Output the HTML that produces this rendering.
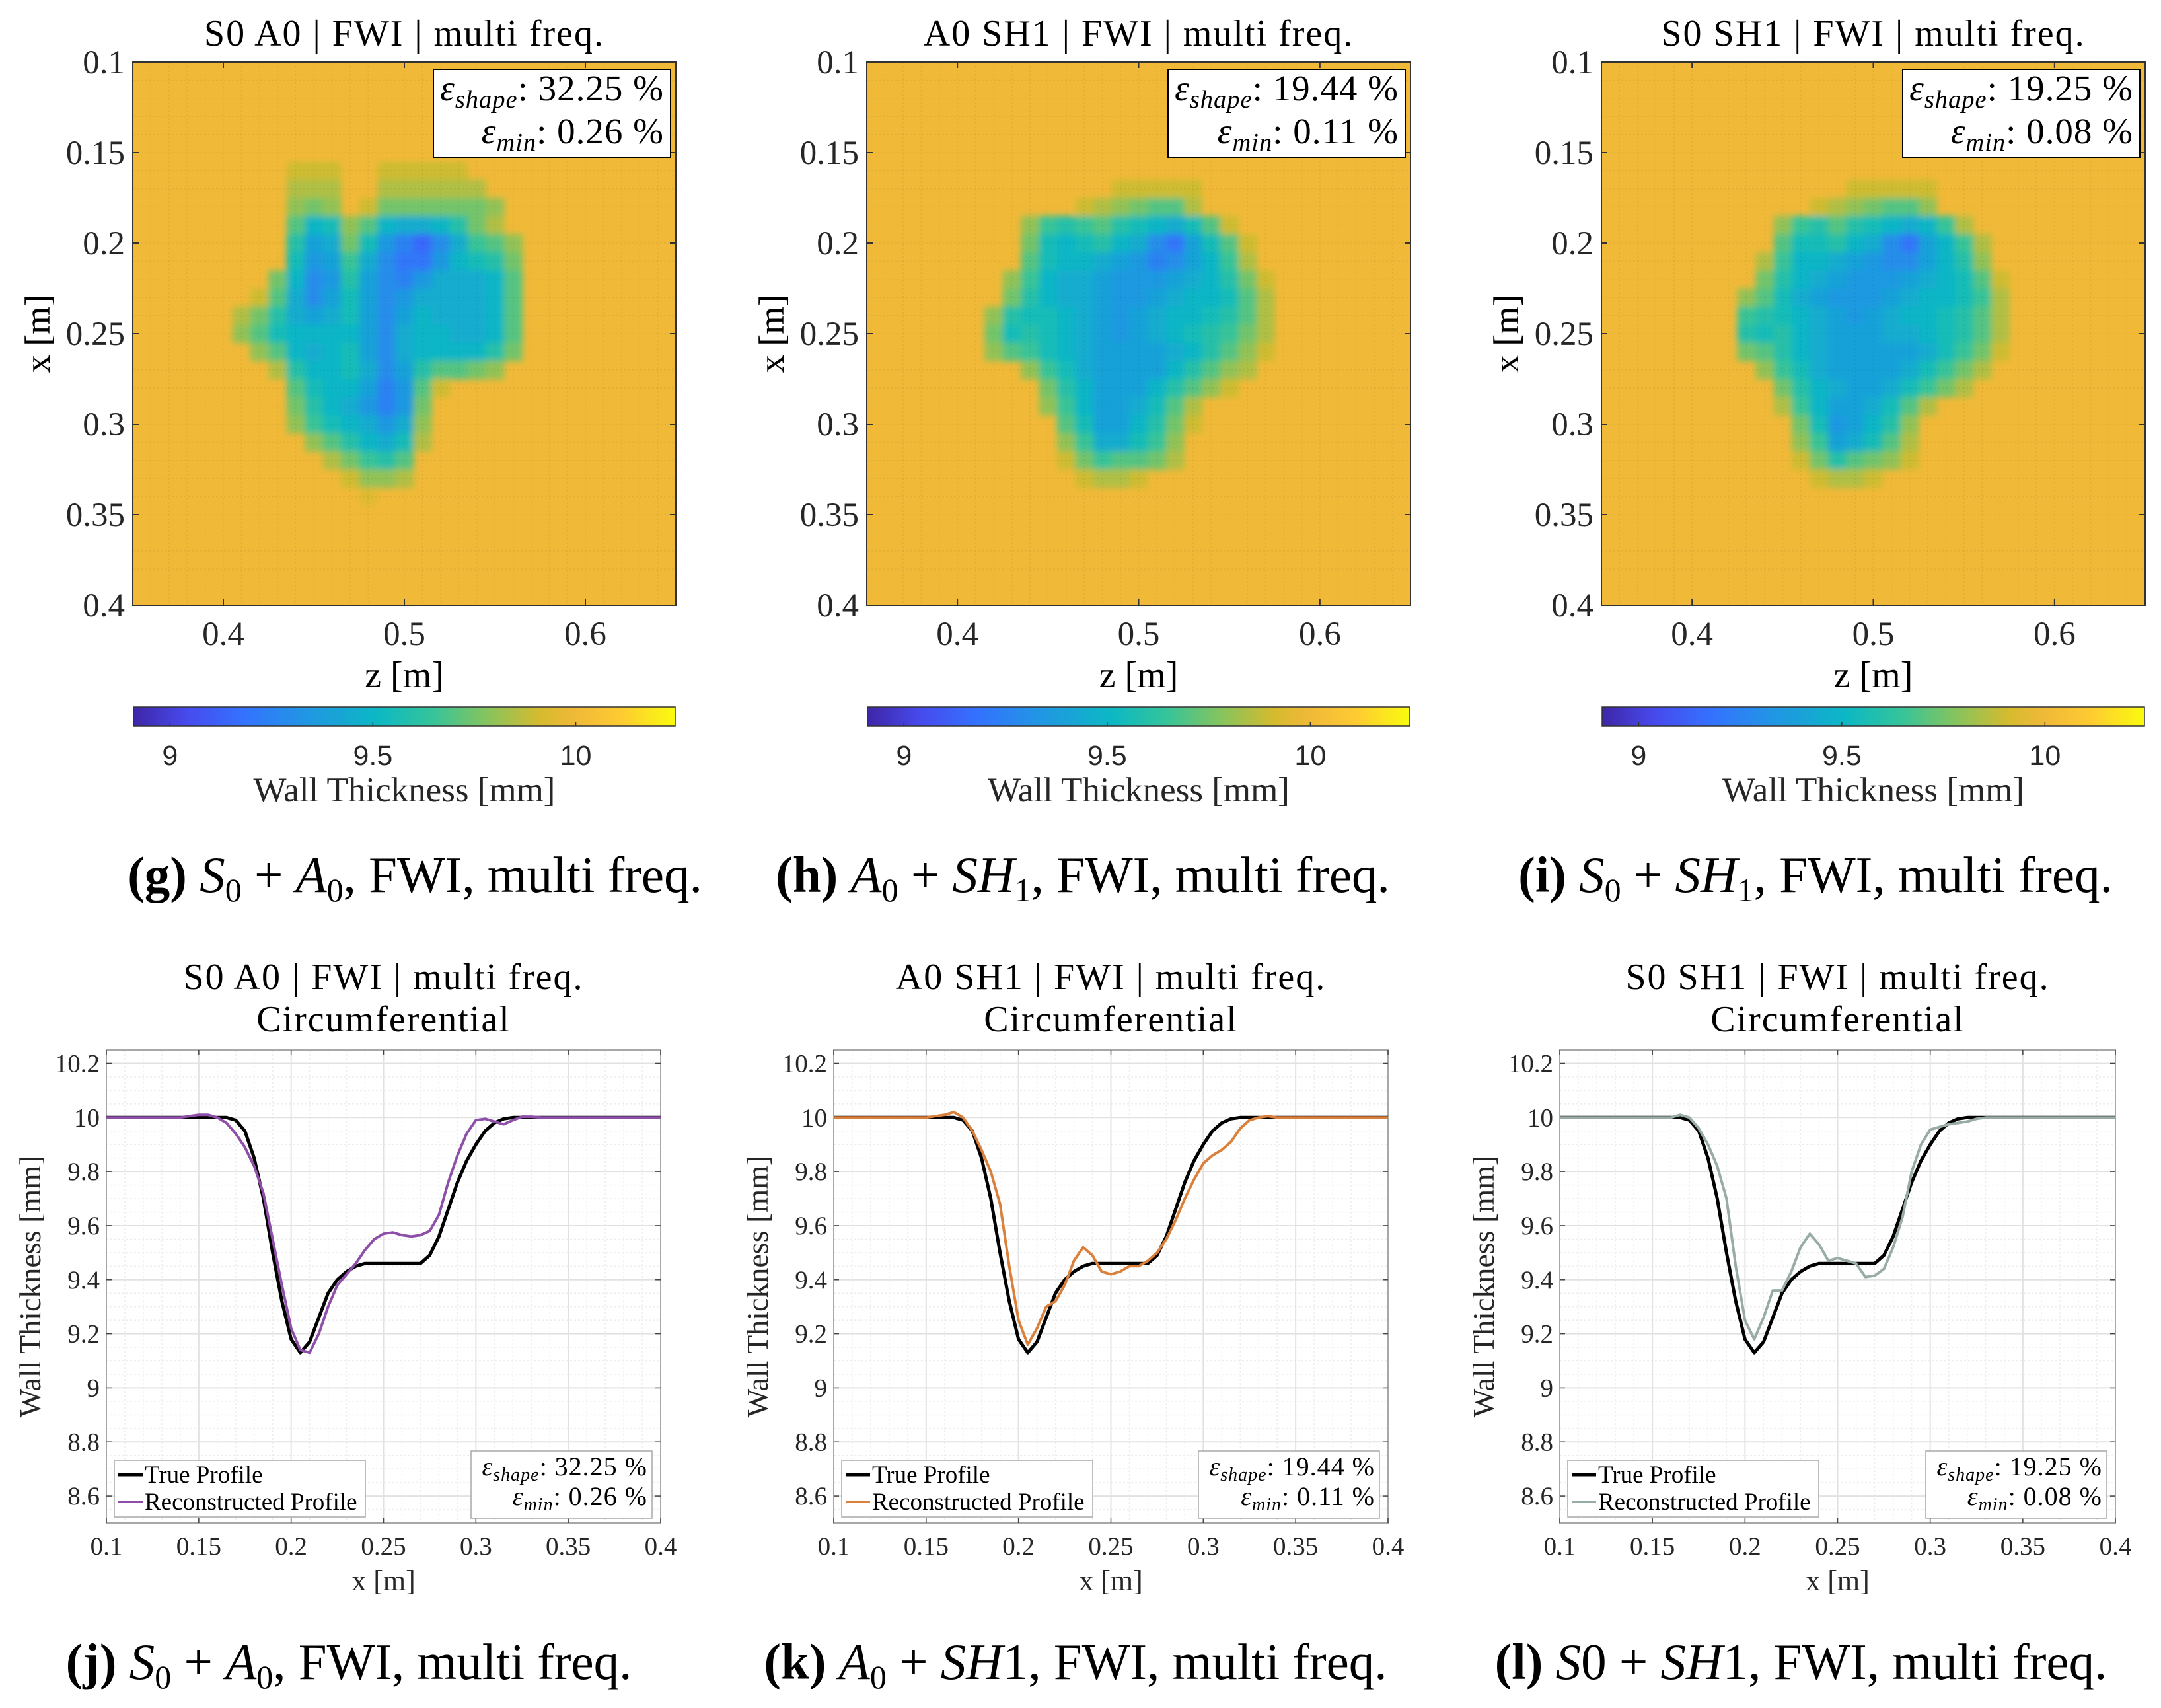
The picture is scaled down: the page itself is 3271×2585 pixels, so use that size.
<!DOCTYPE html>
<html><head><meta charset="utf-8"><style>
html,body{margin:0;padding:0;background:#fff;}
#wrap{position:relative;width:3271px;height:2585px;overflow:hidden;background:#fff;}
svg{position:absolute;left:0;top:0;}
.cap{position:absolute;font-family:"Liberation Serif",serif;font-size:77px;white-space:nowrap;transform:translateX(-50%);color:#000;}
.cap sub{font-size:50px;vertical-align:-14px;line-height:0;}
</style></head><body>
<div id="wrap">
<svg id="fig" width="3271" height="2585" viewBox="0 0 3271 2585" xmlns="http://www.w3.org/2000/svg">
<defs>
<filter id="blur" x="-10%" y="-10%" width="120%" height="120%"><feGaussianBlur stdDeviation="5"/></filter>
</defs>
</svg>
<div class="cap" style="left:628px;top:1280px"><b>(g)</b> <i>S</i><sub>0</sub> + <i>A</i><sub>0</sub>, FWI, multi freq.</div>
<div class="cap" style="left:1639px;top:1280px"><b>(h)</b> <i>A</i><sub>0</sub> + <i>SH</i><sub>1</sub>, FWI, multi freq.</div>
<div class="cap" style="left:2748px;top:1280px"><b>(i)</b> <i>S</i><sub>0</sub> + <i>SH</i><sub>1</sub>, FWI, multi freq.</div>
<div class="cap" style="left:528px;top:2471px"><b>(j)</b> <i>S</i><sub>0</sub> + <i>A</i><sub>0</sub>, FWI, multi freq.</div>
<div class="cap" style="left:1628px;top:2471px"><b>(k)</b> <i>A</i><sub>0</sub> + <i>SH</i>1, FWI, multi freq.</div>
<div class="cap" style="left:2726px;top:2471px"><b>(l)</b> <i>S</i>0 + <i>SH</i>1, FWI, multi freq.</div>
</div>
<script>
// ---------- data ----------
const heatZ = [0.40,0.41,0.42,0.43,0.44,0.45,0.46,0.47,0.48,0.49,0.50,0.51,0.52,0.53,0.54,0.55,0.56,0.57,0.58,0.59];
const heatX = [0.16,0.17,0.18,0.19,0.20,0.21,0.22,0.23,0.24,0.25,0.26,0.27,0.28,0.29,0.30,0.31,0.32,0.33,0.34];
const heatG = [
[10,10,10,10,9.9,9.9,9.9,10,10,9.9,9.9,9.9,9.9,9.9,10,10,10,10,10,10],
[10,10,10,10,9.85,9.85,9.85,10,10,9.85,9.85,9.85,9.85,9.85,9.85,10,10,10,10,10],
[10,10,10,10,9.8,9.75,9.8,10,9.9,9.75,9.75,9.75,9.75,9.75,9.75,9.8,10,10,10,10],
[10,10,10,10,9.7,9.5,9.55,9.8,9.7,9.5,9.45,9.45,9.5,9.6,9.75,9.85,10,10,10,10],
[10,10,10,10,9.6,9.4,9.45,9.75,9.55,9.35,9.25,9.15,9.3,9.45,9.65,9.7,9.8,10,10,10],
[10,10,10,10,9.55,9.35,9.4,9.65,9.45,9.3,9.2,9.2,9.35,9.5,9.55,9.6,9.75,10,10,10],
[10,10,10,9.75,9.5,9.3,9.35,9.6,9.4,9.3,9.25,9.35,9.45,9.45,9.45,9.5,9.7,10,10,10],
[10,10,9.9,9.7,9.45,9.3,9.4,9.55,9.4,9.3,9.35,9.45,9.45,9.45,9.45,9.5,9.7,10,10,10],
[10,9.85,9.75,9.6,9.45,9.4,9.45,9.55,9.4,9.3,9.4,9.5,9.45,9.45,9.45,9.5,9.7,10,10,10],
[10,9.8,9.7,9.55,9.5,9.5,9.5,9.5,9.4,9.3,9.45,9.5,9.5,9.45,9.45,9.5,9.7,10,10,10],
[10,10,9.8,9.7,9.5,9.45,9.5,9.55,9.4,9.3,9.45,9.5,9.5,9.5,9.5,9.6,9.75,10,10,10],
[10,10,10,9.85,9.6,9.5,9.5,9.55,9.45,9.3,9.4,9.6,9.7,9.7,9.75,9.8,10,10,10,10],
[10,10,10,10,9.7,9.55,9.5,9.5,9.4,9.25,9.35,9.7,9.9,10,10,10,10,10,10,10],
[10,10,10,10,9.75,9.6,9.5,9.45,9.35,9.25,9.35,9.75,10,10,10,10,10,10,10,10],
[10,10,10,10,9.8,9.65,9.55,9.5,9.45,9.35,9.45,9.8,10,10,10,10,10,10,10,10],
[10,10,10,10,10,9.8,9.7,9.6,9.5,9.45,9.55,9.85,10,10,10,10,10,10,10,10],
[10,10,10,10,10,10,9.85,9.75,9.65,9.6,9.7,10,10,10,10,10,10,10,10,10],
[10,10,10,10,10,10,10,9.9,9.8,9.8,9.85,10,10,10,10,10,10,10,10,10],
[10,10,10,10,10,10,10,10,9.95,10,10,10,10,10,10,10,10,10,10,10]
];
const heatH = [
[10,10,10,10,10,10,10,10,10,10,10,10,10,10,10,10,10,10,10,10],
[10,10,10,10,10,10,10,10,10,9.9,9.9,9.9,9.9,9.9,10,10,10,10,10,10],
[10,10,10,10,10,10,10,9.9,9.85,9.8,9.75,9.7,9.7,9.85,10,10,10,10,10,10],
[10,10,10,10,9.8,9.65,9.6,9.65,9.7,9.6,9.55,9.5,9.45,9.55,9.7,9.9,10,10,10,10],
[10,10,10,10,9.75,9.55,9.5,9.55,9.6,9.5,9.45,9.3,9.2,9.4,9.55,9.7,9.9,10,10,10],
[10,10,10,10,9.7,9.55,9.5,9.5,9.45,9.4,9.35,9.25,9.3,9.4,9.5,9.65,9.85,10,10,10],
[10,10,10,9.8,9.65,9.5,9.45,9.45,9.4,9.35,9.35,9.35,9.4,9.45,9.5,9.6,9.75,9.9,10,10],
[10,10,10,9.75,9.6,9.5,9.45,9.45,9.4,9.35,9.35,9.4,9.45,9.5,9.5,9.55,9.7,9.85,10,10],
[10,10,9.8,9.6,9.55,9.55,9.5,9.45,9.4,9.35,9.4,9.45,9.5,9.5,9.55,9.6,9.7,9.85,10,10],
[10,10,9.75,9.55,9.6,9.55,9.5,9.45,9.4,9.35,9.4,9.45,9.5,9.55,9.6,9.65,9.75,9.85,10,10],
[10,10,9.8,9.7,9.65,9.55,9.5,9.45,9.4,9.4,9.4,9.4,9.45,9.5,9.6,9.7,9.8,9.9,10,10],
[10,10,10,10,9.8,9.65,9.55,9.45,9.4,9.4,9.4,9.4,9.5,9.6,9.7,9.8,9.85,10,10,10],
[10,10,10,10,10,9.75,9.6,9.5,9.4,9.4,9.4,9.5,9.6,9.7,9.8,9.9,10,10,10,10],
[10,10,10,10,10,9.8,9.65,9.5,9.4,9.4,9.45,9.55,9.7,9.85,10,10,10,10,10,10],
[10,10,10,10,10,10,9.7,9.55,9.4,9.4,9.5,9.6,9.75,9.9,10,10,10,10,10,10],
[10,10,10,10,10,10,9.8,9.65,9.45,9.45,9.55,9.65,9.8,10,10,10,10,10,10,10],
[10,10,10,10,10,10,9.9,9.75,9.65,9.7,9.7,9.75,9.85,10,10,10,10,10,10,10],
[10,10,10,10,10,10,10,9.9,9.85,9.85,9.9,10,10,10,10,10,10,10,10,10],
[10,10,10,10,10,10,10,10,10,10,10,10,10,10,10,10,10,10,10,10]
];
const heatI = [
[10,10,10,10,10,10,10,10,10,10,10,10,10,10,10,10,10,10,10,10],
[10,10,10,10,10,10,10,10,10,9.9,9.9,9.9,9.9,9.9,10,10,10,10,10,10],
[10,10,10,10,10,10,10,9.9,9.85,9.8,9.75,9.7,9.7,9.8,10,10,10,10,10,10],
[10,10,10,10,10,9.8,9.65,9.6,9.7,9.6,9.55,9.5,9.45,9.5,9.65,9.85,10,10,10,10],
[10,10,10,10,10,9.7,9.55,9.55,9.6,9.5,9.45,9.3,9.2,9.4,9.5,9.65,9.85,10,10,10],
[10,10,10,10,9.85,9.65,9.5,9.5,9.45,9.4,9.35,9.3,9.3,9.4,9.5,9.6,9.8,10,10,10],
[10,10,10,10,9.75,9.6,9.5,9.45,9.4,9.35,9.35,9.35,9.4,9.45,9.5,9.55,9.7,9.9,10,10],
[10,10,10,9.8,9.7,9.55,9.45,9.4,9.35,9.35,9.35,9.4,9.45,9.5,9.5,9.55,9.65,9.85,10,10],
[10,10,10,9.65,9.6,9.55,9.5,9.45,9.4,9.35,9.4,9.45,9.5,9.5,9.55,9.6,9.7,9.85,10,10],
[10,10,10,9.6,9.55,9.6,9.5,9.45,9.4,9.4,9.4,9.45,9.45,9.5,9.55,9.6,9.7,9.85,10,10],
[10,10,10,9.75,9.7,9.6,9.5,9.45,9.4,9.4,9.4,9.4,9.4,9.45,9.55,9.65,9.75,9.9,10,10],
[10,10,10,10,9.8,9.65,9.55,9.45,9.4,9.4,9.4,9.4,9.45,9.55,9.65,9.75,9.85,10,10,10],
[10,10,10,10,10,9.75,9.6,9.5,9.45,9.4,9.4,9.45,9.55,9.65,9.75,9.85,10,10,10,10],
[10,10,10,10,10,9.85,9.65,9.5,9.4,9.4,9.45,9.55,9.7,9.85,10,10,10,10,10,10],
[10,10,10,10,10,10,9.75,9.55,9.35,9.4,9.5,9.6,9.8,10,10,10,10,10,10,10],
[10,10,10,10,10,10,9.8,9.65,9.4,9.45,9.55,9.7,9.85,10,10,10,10,10,10,10],
[10,10,10,10,10,10,9.9,9.75,9.6,9.7,9.75,9.8,9.9,10,10,10,10,10,10,10],
[10,10,10,10,10,10,10,9.9,9.85,9.85,9.9,10,10,10,10,10,10,10,10,10],
[10,10,10,10,10,10,10,10,10,10,10,10,10,10,10,10,10,10,10,10]
];
const heatYTicks = [0.1,0.15,0.2,0.25,0.3,0.35,0.4];
const heatYTickLabels = ["0.1","0.15","0.2","0.25","0.3","0.35","0.4"];
const heatXTicks = [0.4,0.5,0.6];
const heatXTickLabels = ["0.4","0.5","0.6"];
const cbarTicks = [9,9.5,10];
const cbarTickLabels = ["9","9.5","10"];

const profX = [0.1,0.105,0.11,0.115,0.12,0.125,0.13,0.135,0.14,0.145,0.15,0.155,0.16,0.165,0.17,0.175,0.18,0.185,0.19,0.195,0.2,0.205,0.21,0.215,0.22,0.225,0.23,0.235,0.24,0.245,0.25,0.255,0.26,0.265,0.27,0.275,0.28,0.285,0.29,0.295,0.3,0.305,0.31,0.315,0.32,0.325,0.33,0.335,0.34,0.345,0.35,0.355,0.36,0.365,0.37,0.375,0.38,0.385,0.39,0.395,0.4];
const trueProfile = [10,10,10,10,10,10,10,10,10,10,10,10,10,10,9.99,9.95,9.85,9.7,9.5,9.32,9.18,9.13,9.17,9.26,9.35,9.4,9.43,9.45,9.46,9.46,9.46,9.46,9.46,9.46,9.46,9.49,9.56,9.66,9.76,9.84,9.9,9.95,9.98,9.995,10,10,10,10,10,10,10,10,10,10,10,10,10,10,10,10,10];
const reconJ = [10,10,10,10,10,10,10,10,10,10.005,10.01,10.01,10,9.98,9.94,9.89,9.82,9.72,9.55,9.38,9.22,9.14,9.13,9.2,9.3,9.38,9.42,9.46,9.51,9.55,9.57,9.575,9.565,9.56,9.565,9.58,9.64,9.76,9.86,9.94,9.99,9.995,9.985,9.975,9.99,10.003,10.003,10,10,10,10,10,10,10,10,10,10,10,10,10,10];
const reconK = [10,10,10,10,10,10,10,10,10,10,10,10.005,10.01,10.02,10,9.95,9.88,9.8,9.68,9.45,9.25,9.16,9.22,9.3,9.32,9.38,9.47,9.52,9.49,9.43,9.42,9.43,9.45,9.45,9.47,9.5,9.55,9.62,9.7,9.77,9.83,9.86,9.88,9.91,9.96,9.99,10,10.005,10,10,10,10,10,10,10,10,10,10,10,10,10];
const reconL = [10,10,10,10,10,10,10,10,10,10,10,10,10,10.01,10,9.96,9.9,9.82,9.7,9.45,9.25,9.18,9.26,9.36,9.36,9.43,9.52,9.57,9.53,9.47,9.48,9.47,9.46,9.41,9.415,9.44,9.52,9.63,9.8,9.9,9.955,9.965,9.975,9.98,9.985,9.995,10,10,10,10,10,10,10,10,10,10,10,10,10,10,10];
const profXTicks = [0.1,0.15,0.2,0.25,0.3,0.35,0.4];
const profXTickLabels = ["0.1","0.15","0.2","0.25","0.3","0.35","0.4"];
const profYTicks = [8.6,8.8,9,9.2,9.4,9.6,9.8,10,10.2];
const profYTickLabels = ["8.6","8.8","9","9.2","9.4","9.6","9.8","10","10.2"];

// ---------- helpers ----------
const NS = "http://www.w3.org/2000/svg";
const svg = document.getElementById("fig");
function mk(tag, attrs, parent){
  const e = document.createElementNS(NS, tag);
  for (const k in attrs) e.setAttribute(k, attrs[k]);
  (parent || svg).appendChild(e);
  return e;
}
const SERIF = '"Liberation Serif", serif';
const SANS = '"Liberation Sans", sans-serif';
const CMIN = 8.91, CMAX = 10.245;
const STOPS = [[0,62,38,168],[0.1,71,75,238],[0.2,52,113,254],[0.3,36,145,232],[0.45,12,184,196],[0.55,52,196,155],[0.65,132,196,94],[0.75,213,187,46],[0.816,241,185,56],[0.9,254,203,50],[1,249,251,14]];
function cmap(v){
  let t = (v - CMIN) / (CMAX - CMIN); t = Math.max(0, Math.min(1, t));
  for (let i = 1; i < STOPS.length; i++){
    if (t <= STOPS[i][0]){
      const a = STOPS[i-1], b = STOPS[i], f = (t - a[0]) / (b[0] - a[0]);
      return "rgb(" + [1,2,3].map(j => Math.round(a[j] + f*(b[j]-a[j]))).join(",") + ")";
    }
  }
  return "rgb(249,251,14)";
}
function errText(parent, xr, y1, y2, fs, shape, mn, name){
  const t1 = mk("text", {x:xr, y:y1, "text-anchor":"end", "font-family":SERIF, "font-size":fs, "letter-spacing":1}, parent);
  
  
  t1.innerHTML = '<tspan font-style="italic">ε</tspan><tspan font-style="italic" font-size="' + (fs*0.7) + '" dy="' + (fs*0.2) + '">shape</tspan><tspan dy="' + (-fs*0.2) + '">:  ' + shape + ' %</tspan>';
  const t2 = mk("text", {x:xr, y:y2, "text-anchor":"end", "font-family":SERIF, "font-size":fs, "letter-spacing":1}, parent);
  
  
  t2.innerHTML = '<tspan font-style="italic">ε</tspan><tspan font-style="italic" font-size="' + (fs*0.7) + '" dy="' + (fs*0.2) + '">min</tspan><tspan dy="' + (-fs*0.2) + '">:  ' + mn + ' %</tspan>';
}

// ---------- heatmap panels ----------
function drawHeat(id, px, py, W, H, data, title, eShape, eMin){
  const g = mk("g", {});
  
  
  const sz = z => px + (z - 0.35) / 0.3 * W;
  const sx = x => py + (x - 0.1) / 0.3 * H;
  const cx = W / 30, cy = H / 30;
  const clip = mk("clipPath", {id: "clip-" + id}, svg.querySelector("defs"));
  mk("rect", {x:px, y:py, width:W, height:H}, clip);
  const bg = mk("rect", {x:px, y:py, width:W, height:H, fill:cmap(10)}, g);
  
  
  const cg = mk("g", {"clip-path":"url(#clip-" + id + ")"}, g);
  const blurG = mk("g", {filter:"url(#blur)"}, cg);
  for (let r = 0; r < heatX.length; r++){
    for (let c = 0; c < heatZ.length; c++){
      const v = data[r][c];
      if (v === 10) continue;
      const cell = mk("rect", {x:sz(heatZ[c]) - cx/2, y:sx(heatX[r]) - cy/2, width:cx + 0.6, height:cy + 0.6, fill:cmap(v)}, blurG);
      
      
    }
  }
  for (let k = 1; k < 30; k++){
    mk("line", {x1:px + k*cx, x2:px + k*cx, y1:py, y2:py+H, stroke:"rgba(0,0,0,0.05)", "stroke-width":1.5, "stroke-dasharray":"3 3"}, g);
    mk("line", {y1:py + k*cy, y2:py + k*cy, x1:px, x2:px+W, stroke:"rgba(0,0,0,0.05)", "stroke-width":1.5, "stroke-dasharray":"3 3"}, g);
  }
  const box = mk("rect", {x:px, y:py, width:W, height:H, fill:"none", stroke:"#333", "stroke-width":2}, g);
  
  
  heatYTicks.forEach((v, i) => {
    const y = sx(v);
    mk("line", {x1:px, x2:px+9, y1:y, y2:y, stroke:"#333", "stroke-width":2}, g);
    mk("line", {x1:px+W-9, x2:px+W, y1:y, y2:y, stroke:"#333", "stroke-width":2}, g);
    const t = mk("text", {x:px - 12, y:y + 17, "text-anchor":"end", "font-family":SERIF, "font-size":51, fill:"#262626"}, g);
    
    
    t.textContent = heatYTickLabels[i];
  });
  heatXTicks.forEach((v, i) => {
    const x = sz(v);
    mk("line", {x1:x, x2:x, y1:py+H-9, y2:py+H, stroke:"#333", "stroke-width":2}, g);
    mk("line", {x1:x, x2:x, y1:py, y2:py+9, stroke:"#333", "stroke-width":2}, g);
    const t = mk("text", {x:x, y:py + H + 60, "text-anchor":"middle", "font-family":SERIF, "font-size":51, fill:"#262626"}, g);
    
    
    t.textContent = heatXTickLabels[i];
  });
  const tt = mk("text", {x:px + W/2, y:py - 25, "text-anchor":"middle", "font-family":SERIF, "font-size":56, "letter-spacing":2}, g);
  
  
  tt.textContent = title;
  const yl = mk("text", {x:0, y:0, "text-anchor":"middle", "font-family":SERIF, "font-size":54, transform:"translate(" + (px - 126) + "," + (py + H/2) + ") rotate(-90)"}, g);
  
  
  yl.textContent = "x [m]";
  const xl = mk("text", {x:px + W/2, y:py + H + 124, "text-anchor":"middle", "font-family":SERIF, "font-size":56}, g);
  
  
  xl.textContent = "z [m]";
  const eb = mk("rect", {x:px + W - 367, y:py + 11, width:359, height:133, fill:"#fff", stroke:"#000", "stroke-width":2}, g);
  
  
  errText(g, px + W - 18, py + 58, py + 123, 55, eShape, eMin, id);
  const gid = "cb-" + id;
  const lg = mk("linearGradient", {id:gid, x1:"0", x2:"1", y1:"0", y2:"0"}, svg.querySelector("defs"));
  for (let k = 0; k <= 40; k++){
    mk("stop", {offset:(k/40), "stop-color":cmap(CMIN + (CMAX-CMIN)*k/40)}, lg);
  }
  const cbY = py + 976;
  const cb = mk("rect", {x:px + 1, y:cbY, width:W - 2, height:29, fill:"url(#" + gid + ")", stroke:"#333", "stroke-width":1.5}, g);
  
  
  const cbs = v => px + 1 + (v - CMIN) / (CMAX - CMIN) * (W - 2);
  cbarTicks.forEach((v, i) => {
    const x = cbs(v);
    mk("line", {x1:x, x2:x, y1:cbY + 22, y2:cbY + 29, stroke:"#333", "stroke-width":1.5}, g);
    const t = mk("text", {x:x, y:cbY + 88, "text-anchor":"middle", "font-family":SANS, "font-size":43, fill:"#262626"}, g);
    
    
    t.textContent = cbarTickLabels[i];
  });
  const cl = mk("text", {x:px + W/2, y:cbY + 143, "text-anchor":"middle", "font-family":SERIF, "font-size":53, fill:"#262626"}, g);
  
  
  cl.textContent = "Wall Thickness [mm]";
}

// ---------- profile panels ----------
function drawProfile(id, px, py, W, H, recon, color, title, eShape, eMin){
  const g = mk("g", {});
  
  
  const sx = x => px + (x - 0.1) / 0.3 * W;
  const sy = y => py + (10.25 - y) / 1.75 * H;
  const bg = mk("rect", {x:px, y:py, width:W, height:H, fill:"#fff"}, g);
  
  
  for (let k = 1; k < 30; k++){
    mk("line", {x1:px + k*W/30, x2:px + k*W/30, y1:py, y2:py+H, stroke:"#eeeeee", "stroke-width":1.5, "stroke-dasharray":"3 3"}, g);
  }
  for (let v = 8.55; v < 10.25; v += 0.05){
    mk("line", {x1:px, x2:px+W, y1:sy(v), y2:sy(v), stroke:"#eeeeee", "stroke-width":1.5, "stroke-dasharray":"3 3"}, g);
  }
  profXTicks.forEach(v => mk("line", {x1:sx(v), x2:sx(v), y1:py, y2:py+H, stroke:"#e2e2e2", "stroke-width":2}, g));
  profYTicks.forEach(v => mk("line", {x1:px, x2:px+W, y1:sy(v), y2:sy(v), stroke:"#e2e2e2", "stroke-width":2}, g));
  const box = mk("rect", {x:px, y:py, width:W, height:H, fill:"none", stroke:"#a8a8a8", "stroke-width":2}, g);
  
  
  profYTicks.forEach((v, i) => {
    const y = sy(v);
    mk("line", {x1:px, x2:px+8, y1:y, y2:y, stroke:"#444", "stroke-width":1.5}, g);
    mk("line", {x1:px+W-8, x2:px+W, y1:y, y2:y, stroke:"#444", "stroke-width":1.5}, g);
    const t = mk("text", {x:px - 10, y:y + 13, "text-anchor":"end", "font-family":SERIF, "font-size":39, fill:"#262626"}, g);
    
    
    t.textContent = profYTickLabels[i];
  });
  profXTicks.forEach((v, i) => {
    const x = sx(v);
    mk("line", {x1:x, x2:x, y1:py+H-8, y2:py+H, stroke:"#444", "stroke-width":1.5}, g);
    mk("line", {x1:x, x2:x, y1:py, y2:py+8, stroke:"#444", "stroke-width":1.5}, g);
    const t = mk("text", {x:x, y:py + H + 48, "text-anchor":"middle", "font-family":SERIF, "font-size":39, fill:"#262626"}, g);
    
    
    t.textContent = profXTickLabels[i];
  });
  const ptsT = profX.map((x, i) => sx(x).toFixed(1) + "," + sy(trueProfile[i]).toFixed(1)).join(" ");
  const ptsR = profX.map((x, i) => sx(x).toFixed(1) + "," + sy(recon[i]).toFixed(1)).join(" ");
  const lt = mk("polyline", {points:ptsT, fill:"none", stroke:"#000", "stroke-width":5, "stroke-linejoin":"round"}, g);
  
  
  const lr = mk("polyline", {points:ptsR, fill:"none", stroke:color, "stroke-width":4, "stroke-linejoin":"round"}, g);
  
  
  const t1 = mk("text", {x:px + W/2, y:py - 92, "text-anchor":"middle", "font-family":SERIF, "font-size":56, "letter-spacing":2}, g);
  
  
  t1.textContent = title;
  const t2 = mk("text", {x:px + W/2, y:py - 28, "text-anchor":"middle", "font-family":SERIF, "font-size":56, "letter-spacing":2}, g);
  
  
  t2.textContent = "Circumferential";
  const yl = mk("text", {x:0, y:0, "text-anchor":"middle", "font-family":SERIF, "font-size":46, fill:"#262626", transform:"translate(" + (px - 100) + "," + (py + H/2) + ") rotate(-90)"}, g);
  
  
  yl.textContent = "Wall Thickness [mm]";
  const xl = mk("text", {x:px + W/2, y:py + H + 102, "text-anchor":"middle", "font-family":SERIF, "font-size":44, fill:"#262626"}, g);
  
  
  xl.textContent = "x [m]";
  const lb = mk("rect", {x:px + 12, y:py + H - 95, width:380, height:86, fill:"#fff", stroke:"#a8a8a8", "stroke-width":1.5}, g);
  
  
  mk("line", {x1:px + 18, x2:px + 55, y1:py + H - 73, y2:py + H - 73, stroke:"#000", "stroke-width":5}, g);
  const le1 = mk("text", {x:px + 58, y:py + H - 61, "font-family":SERIF, "font-size":37}, g);
  
  
  le1.textContent = "True Profile";
  mk("line", {x1:px + 18, x2:px + 55, y1:py + H - 32, y2:py + H - 32, stroke:color, "stroke-width":4}, g);
  const le2 = mk("text", {x:px + 58, y:py + H - 20, "font-family":SERIF, "font-size":37}, g);
  
  
  le2.textContent = "Reconstructed Profile";
  const eb = mk("rect", {x:px + W - 287, y:py + H - 109, width:274, height:102, fill:"#fff", stroke:"#a8a8a8", "stroke-width":1.5}, g);
  
  
  errText(g, px + W - 20, py + H - 72, py + H - 27, 40, eShape, eMin, id);
}

drawHeat("g", 201, 94, 822, 822, heatG, "S0 A0 | FWI | multi freq.", "32.25", "0.26");
drawHeat("h", 1312, 94, 823, 822, heatH, "A0 SH1 | FWI | multi freq.", "19.44", "0.11");
drawHeat("i", 2424, 94, 823, 822, heatI, "S0 SH1 | FWI | multi freq.", "19.25", "0.08");
drawProfile("j", 161, 1589, 839, 716, reconJ, "#8e4fa8", "S0 A0 | FWI | multi freq.", "32.25", "0.26");
drawProfile("k", 1262, 1589, 839, 716, reconK, "#db803a", "A0 SH1 | FWI | multi freq.", "19.44", "0.11");
drawProfile("l", 2361, 1589, 841, 716, reconL, "#98aca4", "S0 SH1 | FWI | multi freq.", "19.25", "0.08");
</script>
</body></html>
